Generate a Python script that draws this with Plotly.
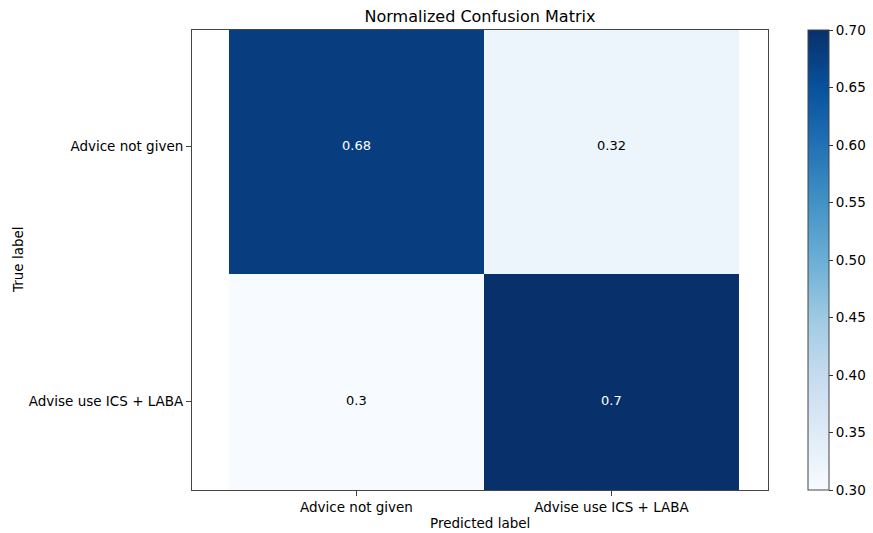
import plotly.graph_objects as go

# Normalized confusion matrix (rows: true label, columns: predicted label)
class_names = ["Advice not given", "Advise use ICS + LABA"]
row_values_0 = [0.68, 0.32]
row_values_1 = [0.30, 0.70]
matrix = [row_values_0, row_values_1]

color_min, color_max = 0.30, 0.70
cbar_ticks = [0.30, 0.35, 0.40, 0.45, 0.50, 0.55, 0.60, 0.65, 0.70]

# Matplotlib-style "Blues" colormap (ColorBrewer 9-class)
blues = ["#f7fbff", "#deebf7", "#c6dbef", "#9ecae1", "#6baed6",
         "#4292c6", "#2171b5", "#08519c", "#08306b"]
colorscale = [[i / (len(blues) - 1), c] for i, c in enumerate(blues)]

FONT = "DejaVu Sans, Arial, sans-serif"
W, H = 873, 533
ML, MR, MT, MB = 192, 105, 30, 43

idx = list(range(len(class_names)))

fig = go.Figure()
fig.add_trace(go.Heatmap(
    z=matrix, x=idx, y=idx,
    zmin=color_min, zmax=color_max,
    colorscale=colorscale,
    hoverinfo="skip",
    colorbar=dict(
        x=1 + (808 - (W - MR)) / (W - ML - MR), xanchor="left",
        y=1, yanchor="top", len=1, lenmode="fraction",
        thickness=21, thicknessmode="pixels",
        xpad=0, ypad=0,
        outlinewidth=1, outlinecolor="#444",
        tickvals=cbar_ticks,
        ticktext=[f"{t:.2f}" for t in cbar_ticks],
        ticks="outside", ticklen=4, tickcolor="#333",
        tickfont=dict(family=FONT, size=13.5, color="black"),
    ),
))

# Cell value labels; white on dark cells, black on light ones
threshold = (max(max(r) for r in matrix) + min(min(r) for r in matrix)) / 2
for i, row in enumerate(matrix):
    for j, v in enumerate(row):
        fig.add_annotation(
            x=j, y=i, xref="x", yref="y", text=f"{v:.2g}", showarrow=False,
            yshift=1,
            font=dict(family=FONT, size=13,
                      color="white" if v > threshold else "black"),
        )

# Axis titles
fig.add_annotation(text="Predicted label", xref="paper", yref="paper",
                   x=0.5, y=0, yshift=-33, yanchor="middle", showarrow=False,
                   font=dict(family=FONT, size=13.5, color="black"))
fig.add_annotation(text="True label", xref="paper", yref="paper",
                   x=0, y=0.5, xshift=-174, xanchor="center", textangle=-90,
                   showarrow=False,
                   font=dict(family=FONT, size=13.5, color="black"))

axis_common = dict(
    showgrid=False, zeroline=False, showline=True, linecolor="#444",
    linewidth=1, mirror=True, ticks="outside", ticklen=5, tickcolor="#444",
    tickfont=dict(family=FONT, size=13.5, color="black"),
    tickvals=idx, ticktext=class_names,
)

fig.update_layout(
    width=W, height=H,
    margin=dict(l=ML, r=MR, t=MT, b=MB, pad=0, autoexpand=False),
    paper_bgcolor="white", plot_bgcolor="white",
    title=dict(text="Normalized Confusion Matrix", x=(ML + (W - MR)) / 2 / W,
               xanchor="center", xref="container",
               y=1 - 16 / H, yref="container", yanchor="middle",
               font=dict(family=FONT, size=16, color="black")),
    xaxis=dict(range=[-0.645, 1.614], **axis_common),
    yaxis=dict(range=[1.349, -0.455], **axis_common),
)

fig.write_html("out.html")
